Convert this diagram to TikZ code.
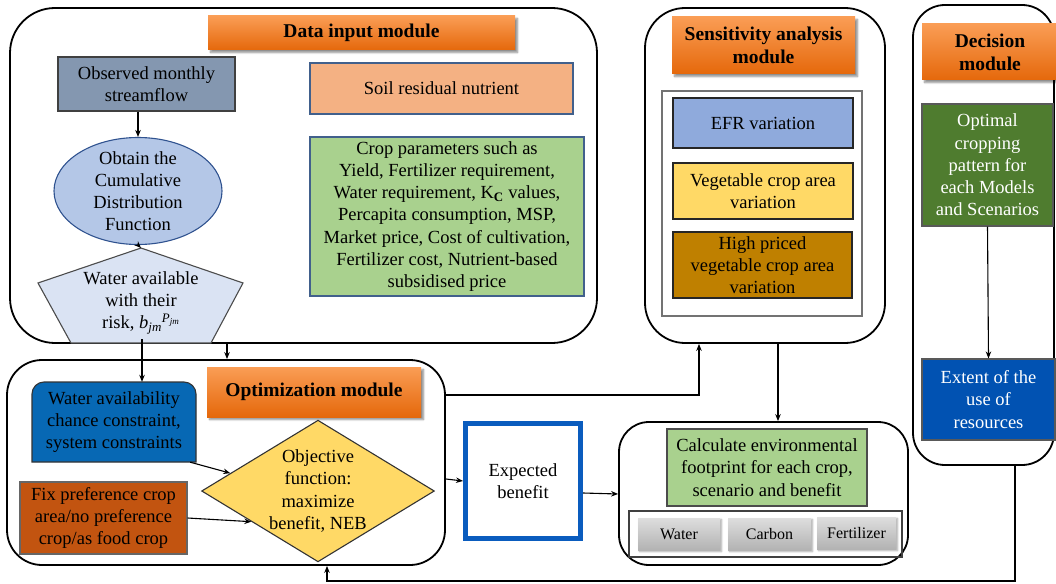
\documentclass[tikz,border=0pt]{standalone}
\usepackage{fontspec}
\setmainfont{Liberation Serif}
\usetikzlibrary{shapes.geometric,arrows.meta,calc,shadows.blur}

\definecolor{ttltop}{HTML}{FA9D55}
\definecolor{ttlbot}{HTML}{E5680B}
\definecolor{slate}{HTML}{8497B0}
\definecolor{cdfblue}{HTML}{B4C7E7}
\definecolor{cdfedge}{HTML}{2F528F}
\definecolor{pentfill}{HTML}{DAE3F3}
\definecolor{soilfill}{HTML}{F4B183}
\definecolor{lgreen}{HTML}{A9D18E}
\definecolor{boxedge}{HTML}{41608C}
\definecolor{efrblue}{HTML}{8FAADC}
\definecolor{vegyel}{HTML}{FFD966}
\definecolor{gold}{HTML}{BF8000}
\definecolor{dgreen}{HTML}{4F7C2F}
\definecolor{extblue}{HTML}{0152B2}
\definecolor{wacblue}{HTML}{0768B4}
\definecolor{rust}{HTML}{C25410}
\definecolor{expblue}{HTML}{0A5CBE}

\newcommand\txtsize{\fontsize{18.5}{22.2}\selectfont}
\newcommand\ttlsize{\fontsize{19.5}{23}\selectfont}

\begin{document}
\begin{tikzpicture}[x=1pt,y=-1pt,
  sz/.style 2 args={minimum width=#1, minimum height=#2},
  modbox/.style={draw=black, line width=1.8pt, rounded corners=#1, inner sep=0pt},
  ttl/.style={rectangle, top color=ttltop, bottom color=ttlbot, draw=none,
    font=\ttlsize\bfseries, align=center, inner sep=0pt,
    blur shadow={shadow xshift=2.5pt, shadow yshift=-2.5pt, shadow blur steps=6, shadow opacity=45}},
  box/.style={rectangle, draw=#1, line width=1.1pt, align=center, inner sep=1pt, font=\txtsize},
  greybox/.style={rectangle, top color=black!13, bottom color=black!30, draw=none,
    font=\fontsize{16}{19}\selectfont, inner sep=0pt,
    blur shadow={shadow xshift=1.5pt, shadow yshift=-1.5pt, shadow blur steps=4, shadow opacity=35}},
  arr/.style={-{Stealth[length=7pt,width=5.5pt]}, line width=1.1pt},
  ln/.style={line width=1.1pt}
]
\useasboundingbox (0,0) rectangle (1056,583);

% ---------- module frames ----------
\node[modbox=45pt, sz={587pt}{335pt}] (datamod) at (303.5,175.5) {};
\node[modbox=40pt, sz={240pt}{335pt}] (sensmod) at (765,175.5) {};
\node[modbox=32pt, sz={141pt}{460pt}] (decmod) at (983.5,235) {};
\node[modbox=35pt, sz={438pt}{205pt}] (optmod) at (226,462.5) {};
\node[modbox=30pt, sz={289pt}{143pt}] (calcmod) at (763.5,493.5) {};

% ---------- data input module ----------
\node[ttl, sz={307pt}{34pt}] (datattl) at (361.5,33) {Data input module};
\node[box=black!75, fill=slate, sz={177pt}{54pt}] (obs) at (146.5,84)
  {Observed monthly\\streamflow};
\node[ellipse, draw=cdfedge, line width=1.1pt, fill=cdfblue, align=center, font=\txtsize,
  inner xsep=8pt, inner ysep=-8pt, sz={168pt}{107pt}] (cdf) at (138,191)
  {Obtain the\\Cumulative\\Distribution\\Function};
\coordinate (ptop) at (141,248);
\coordinate (pleft) at (38,283);
\coordinate (pright) at (243,283);
\coordinate (pbr) at (211,343);
\coordinate (pbl) at (71,343);
\coordinate (pbot) at (142,339);
\draw[fill=pentfill, draw=black!70, line width=1.1pt]
  (ptop) -- (pright) -- (pbr) -- (pbl) -- (pleft) -- cycle;
\node[align=center, font=\txtsize, inner sep=0pt] (wavail) at (141,303)
  {Water available\\with their\\risk, \textit{b}\textsubscript{\textit{jm}}\textsuperscript{\textit{P}\textsubscript{\textit{jm}}}};
\node[box=boxedge, fill=soilfill, sz={263pt}{51pt}] (soil) at (441.5,88.5)
  {Soil residual nutrient};
\node[box=boxedge, fill=lgreen, sz={274pt}{159pt}] (crop) at (447,216.5)
  {Crop parameters such as\\Yield, Fertilizer requirement,\\Water requirement, K\textsubscript{\textbf{C}} values,\\Percapita consumption, MSP,\\Market price, Cost of cultivation,\\Fertilizer cost, Nutrient-based\\subsidised price};

% ---------- sensitivity analysis module ----------
\node[ttl, sz={183pt}{57pt}] (sensttl) at (763.5,45.5) {Sensitivity analysis\\module};
\node[rectangle, draw=black!55, line width=1.1pt, sz={200pt}{225pt}] (sensin) at (762,203.5) {};
\node[box=black!85, fill=efrblue, sz={180pt}{50pt}] (efr) at (763,123) {EFR variation};
\node[box=black!85, fill=vegyel, sz={180pt}{56pt}] (veg) at (763,191) {Vegetable crop area\\variation};
\node[box=black!85, fill=gold, sz={179pt}{66pt}] (high) at (762.5,265)
  {High priced\\vegetable crop area\\variation};

% ---------- decision module ----------
\node[ttl, sz={136pt}{56pt}] (decttl) at (990,52) {Decision\\module};
\node[box=black!65, fill=dgreen, text=white, sz={131pt}{122pt}] (optpat) at (987.5,165)
  {Optimal\\cropping\\pattern for\\each Models\\and Scenarios};
\node[box=black!65, fill=extblue, text=white, sz={133pt}{81pt}] (extent) at (988.5,399.5)
  {Extent of the\\use of\\resources};

% ---------- optimization module ----------
\node[ttl, sz={214pt}{50pt}] (optttl) at (314,392) {Optimization module};
% constraint box: rounded top corners, square bottom corners
\draw[fill=wacblue, draw=black!80, line width=1.1pt]
  (32,462) [rounded corners=12pt] -- (32,382) -- (196,382)
  [sharp corners] -- (196,462) -- cycle;
\node[align=center, font=\txtsize, inner sep=0pt, sz={164pt}{80pt}] (wac) at (114,422)
  {Water availability\\chance constraint,\\system constraints};
\node[box=black!60, fill=rust, sz={167pt}{72pt}] (fix) at (103.5,518)
  {Fix preference crop\\area/no preference\\crop/as food crop};
\node[diamond, aspect=1.643, draw=black!80, line width=1.1pt, fill=vegyel, align=center,
  font=\txtsize, inner sep=0pt, sz={230pt}{140pt}] (obj) at (318,491)
  {Objective\\function:\\maximize\\benefit, NEB};

% ---------- expected benefit and footprint ----------
\node[rectangle, draw=expblue, line width=5pt, align=center, font=\txtsize,
  sz={115pt}{115pt}] (exp) at (523,481) {Expected\\benefit};
\node[box=black!70, fill=lgreen, sz={200pt}{77pt}] (foot) at (767,467.5)
  {Calculate environmental\\footprint for each crop,\\scenario and benefit};
\node[rectangle, draw=black!75, line width=1.1pt, sz={273pt}{46pt}] (footin) at (765.5,534) {};
\node[greybox, sz={82pt}{32pt}] (fwater) at (679,534) {Water};
\node[greybox, sz={83pt}{32pt}] (fcarbon) at (769.5,534) {Carbon};
\node[greybox, sz={79pt}{32pt}] (ffert) at (856.5,533) {Fertilizer};

% ---------- connectors ----------
\draw[arr] (cdf.north |- obs.south) -- (cdf.north);
\draw[arr] (cdf.south) -- (ptop);
\draw[arr] (pbot) -- (pbot |- wac.north);
\draw[arr] (227,0 |- datamod.south) -- (227,0 |- optmod.north);
\draw[arr] (optmod.east |- 0,395) -- (699,395) -- (699,0 |- sensmod.south);
\draw[arr] (optmod.east |- 0,479) -- (exp.west |- 0,481);
\draw[arr] (exp.east |- 0,493) -- (calcmod.west |- 0,494);
\draw[arr] (778,0 |- sensmod.south) -- (778,0 |- calcmod.north);
\draw[arr] ([xshift=-6pt]wac.south east) -- ($(obj.west)!0.25!(obj.north)$);
\draw[arr] (fix.east) -- ($(obj.west)!0.43!(obj.south)$);
\draw[arr] (optpat.south) -- (extent.north);
\draw[arr] (1015,0 |- decmod.south) -- (1015,581) -- (327,581) -- (327,0 |- optmod.south);

\end{tikzpicture}
\end{document}
